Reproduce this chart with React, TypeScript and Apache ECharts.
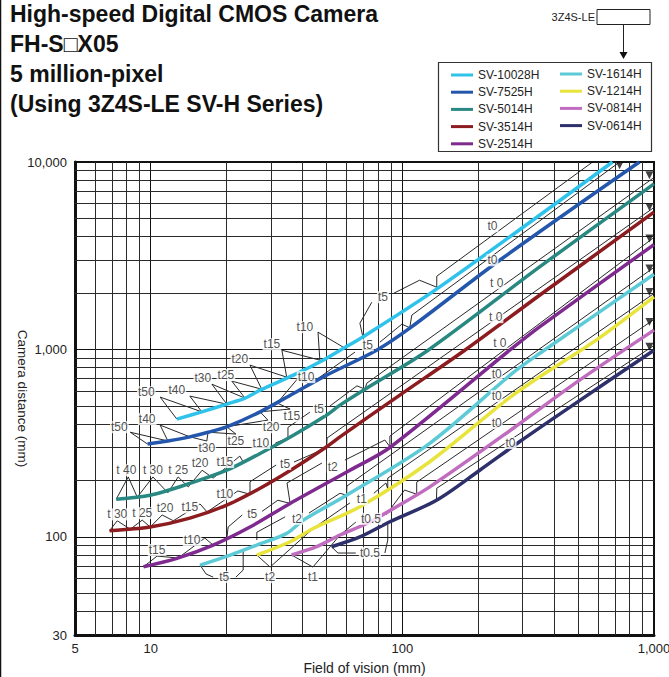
import React, { useEffect, useRef } from 'react';
import * as echarts from 'echarts';

// ---------- data ----------
const seriesNames = ['SV-10028H', 'SV-7525H', 'SV-5014H', 'SV-3514H', 'SV-2514H', 'SV-1614H', 'SV-1214H', 'SV-0814H', 'SV-0614H'];
const seriesColors = ['#2fc3ec', '#2457ab', '#2a8882', '#8c1c20', '#7e2a8f', '#5ccad7', '#e8e43c', '#c06cbf', '#2d306a'];

// [field of vision (mm), camera distance (mm)]
const sv10028h = [[12.7, 425], [15.96, 465], [20.05, 511], [23.7, 550], [27.2, 607], [36.9, 730], [48.4, 877], [56.5, 991], [69.7, 1167], [140.8, 2157], [684, 10000]];
const sv7525h = [[9.71, 313], [11.7, 325], [14.3, 342], [16.9, 362], [20.05, 387], [27.2, 465], [36.9, 583], [50, 730], [79, 991], [108.7, 1320], [243.6, 2993], [875, 10000]];
const sv5014h = [[7.29, 159], [9.95, 167], [14.3, 193], [20.05, 227], [27.2, 279], [36.9, 349], [50, 447], [56.5, 505], [71.0, 614], [126.5, 991], [351, 2757], [1000, 7650]];
const sv3514h = [[6.86, 108], [9.95, 113], [14.3, 126], [20.05, 148], [27.2, 182], [36.9, 232], [50, 303], [56.5, 342], [97.7, 571], [177, 991], [351, 1947], [1000, 5400]];
const sv2514h = [[9.36, 69.4], [12.7, 76.9], [17.7, 90.5], [24.8, 113], [35.8, 151], [61.9, 227], [89.2, 300], [267, 991], [351, 1320], [1000, 3628]];
const sv1614h = [[15.7, 70.8], [20.7, 80.1], [26.4, 90.5], [34.7, 104.5], [40.4, 123], [60, 167], [128.5, 316], [274, 748], [351, 952], [1000, 2520]];
const sv1214h = [[26.4, 80.1], [35.8, 94.3], [44.2, 111], [67.8, 145], [128.5, 252], [259, 537], [351, 715], [589, 1121], [1000, 1908]];
const sv0814h = [[36.3, 80.1], [45.6, 88.7], [56.5, 102.4], [72.1, 118], [94.8, 145], [128.5, 185], [275, 379], [506, 686], [1000, 1268]];
const sv0614h = [[52.3, 88.7], [67.8, 100], [89.2, 120.5], [136.6, 157], [203, 227], [292, 322], [476, 505], [1000, 991]];
const seriesData = [sv10028h, sv7525h, sv5014h, sv3514h, sv2514h, sv1614h, sv1214h, sv0814h, sv0614h];

// extension-tube labels: [text, fov, distance]
const tubeLabels: [string, number, number][] = [
  ['t0', 228, 4540], ['t5', 83.7, 1900], ['t10', 41.0, 1315], ['t15', 30.3, 1067], ['t20', 22.6, 888], ['t25', 19.9, 730], ['t30', 16.1, 703], ['t40', 12.7, 607], ['t50', 9.6, 592],
  ['t0', 228, 2993], ['t5', 72.9, 1054], ['t10', 41.4, 712], ['t15', 36.4, 441], ['t20', 30.1, 385], ['t25', 21.8, 325], ['t30', 16.7, 298], ['t40', 9.68, 425], ['t50', 7.5, 385],
  ['t 0', 237, 2256], ['t5', 46.6, 481], ['t10', 27.4, 317], ['t15', 19.7, 251], ['t20', 15.7, 248], ['t 25', 12.85, 227], ['t 30', 10.2, 227], ['t 40', 8.0, 227],
  ['t 0', 235, 1487], ['t5', 34.2, 245], ['t10', 19.7, 169], ['t15', 14.3, 144], ['t20', 11.4, 143], ['t 25', 9.25, 134], ['t 30', 7.36, 132],
  ['t 0', 244, 1081], ['t2', 52.9, 236], ['t5', 25.3, 132], ['t10', 14.6, 96.3], ['t15', 10.6, 85.2],
  ['t0', 237, 739], ['t2', 38.1, 125], ['t5', 19.6, 61.1],
  ['t0', 237, 564], ['t1', 69.0, 159], ['t2', 29.8, 61.1],
  ['t0', 237, 405], ['t0.5', 75.0, 125], ['t1', 44.1, 61.1],
  ['t0', 269, 317], ['t0.5', 74.3, 82.1],
];

// leader / range lines (polylines of [fov, distance])
const leaderLines: number[][][] = [
  // SV-10028H
  [[12.7, 425], [10.9, 557], [15.96, 465]],
  [[15.96, 465], [14.3, 564], [20.05, 511]],
  [[20.05, 511], [17.5, 653], [23.7, 550]],
  [[23.7, 550], [21.0, 678], [27.6, 614]],
  [[27.6, 614], [24.8, 825], [34.7, 712]],
  [[34.7, 712], [33.2, 991], [47.0, 877]],
  [[47.0, 877], [46.2, 1237], [59.1, 1016]],
  [[69.7, 1163], [67.8, 1381], [75.6, 1787]],
  [[92.5, 1996], [117, 2341], [137, 2148]],
  [[137, 2148], [137, 2459], [570, 10000]],
  // SV-7525H
  [[9.71, 313], [8.29, 362], [11.7, 325]],
  [[11.7, 325], [10.9, 395], [14.3, 342]],
  [[14.3, 342], [16.7, 325], [16.9, 362]],
  [[16.9, 362], [21.8, 354], [20.05, 387]],
  [[20.05, 387], [29.2, 420], [27.2, 465]],
  [[27.2, 465], [35.8, 481], [31.8, 518]],
  [[31.8, 518], [38.5, 703], [42.9, 653]],
  [[42.9, 653], [64.8, 968]],
  [[81.4, 1094], [99.5, 1364], [107, 1307]],
  [[107, 1307], [109, 1524], [730, 10000]],
  // SV-5014H
  [[7.29, 159], [8.14, 209], [8.84, 163]],
  [[8.84, 163], [10.2, 209], [11.7, 172]],
  [[11.7, 172], [12.85, 209], [14.1, 185]],
  [[14.1, 185], [16.0, 227], [17.7, 206]],
  [[17.7, 206], [22.6, 270], [23.3, 251]],
  [[31.3, 317], [35.1, 337]],
  [[35.1, 337], [35.1, 384], [42.9, 463]],
  [[51.5, 499], [66.0, 640], [71.0, 614]],
  [[71.0, 614], [72.2, 661], [990, 8187]],
  // SV-3514H
  [[6.86, 108], [7.36, 122], [8.29, 110]],
  [[8.29, 110], [9.25, 123], [9.95, 113]],
  [[9.95, 113], [11.1, 131], [12.3, 122]],
  [[12.3, 122], [15.7, 150], [16.75, 136]],
  [[16.75, 136], [22.2, 176], [24.8, 169]],
  [[24.8, 169], [24.8, 197], [31.5, 242]],
  [[37.1, 251], [47.8, 291], [50, 303]],
  [[50, 303], [50.2, 337], [990, 5667]],
  // SV-2514H
  [[9.36, 69.4], [10.6, 79.1], [12.85, 77.2]],
  [[12.85, 77.2], [16.4, 98.7], [17.7, 90.5]],
  [[20.05, 97.1], [20.3, 113], [23.1, 131]],
  [[27.7, 137], [32.0, 157], [35.8, 151]],
  [[35.8, 151], [34.8, 194], [47.9, 248]],
  [[59.1, 257], [85.2, 329], [89.2, 303]],
  [[89.2, 303], [89.2, 345], [990, 3920]],
  // SV-1614H
  [[15.7, 70.8], [16.6, 63.4], [17.7, 61.1]],
  [[21.8, 61.1], [23.3, 66.6], [23.3, 84.1]],
  [[26.4, 96.3], [26.4, 106], [34.2, 128]],
  [[42.5, 134], [56.5, 171], [60, 167]],
  [[60, 167], [60.2, 187], [990, 2713]],
  // SV-1214H
  [[26.4, 80.1], [29.8, 69.1], [44.2, 111]],
  [[44.2, 111], [61.9, 152]],
  [[77.0, 171], [86.0, 194], [87.5, 181]],
  [[87.5, 181], [87.5, 206], [990, 1972]],
  // SV-0814H
  [[36.3, 80.1], [44.1, 69.1], [56.5, 102.4]],
  [[56.5, 102.4], [65.3, 120]],
  [[86.0, 131], [102, 178], [114, 169]],
  [[114, 169], [114, 196], [990, 1433]],
  // SV-0614H
  [[52.3, 88.7], [55.4, 82.1], [65.3, 82.1]],
  [[85.2, 82.1], [87.5, 96.3], [87.5, 120]],
  [[136.6, 157], [137, 182], [990, 1041]],
];

// arrow heads at the end of the t0 ranges
const arrowPoints = [[729.6, 9606], [959, 8494], [959, 5757], [959, 3906], [959, 2703], [959, 2028], [959, 1403], [959, 1033]];

// minor grid values
const xMinorTicks = [6, 7, 8, 9, 20, 30, 40, 50, 60, 70, 80, 90, 200, 300, 400, 500, 600, 700, 800, 900];
const yMinorTicks = [40, 50, 60, 70, 80, 90, 200, 300, 400, 500, 600, 700, 800, 900, 2000, 3000, 4000, 5000, 6000, 7000, 8000, 9000];

const titleLines = ['High-speed Digital CMOS Camera', 'FH-S\u25A1X05', '5 million-pixel', '(Using 3Z4S-LE SV-H Series)'];

const FONT = '"Liberation Sans", Arial, Helvetica, sans-serif';

function fmt(v: number) {
  return Math.round(v).toLocaleString('en-US');
}

function buildOption(): any {
  const curveSeries = seriesNames.map((name, i) => ({
    name,
    type: 'line',
    data: seriesData[i],
    smooth: 0.3,
    symbol: 'none',
    z: 5,
    lineStyle: { color: seriesColors[i], width: 3.5 },
    itemStyle: { color: seriesColors[i] },
  }));

  const titleGraphics = titleLines.map((t, i) => ({
    type: 'text',
    x: 10,
    y: [14, 44, 74, 104][i],
    style: { text: t, font: `bold 23px ${FONT}`, fill: '#111', verticalAlign: 'middle' },
  }));

  return {
    animation: false,
    textStyle: { fontFamily: FONT },
    grid: {
      left: 75, right: 15, top: 162, bottom: 42, show: true, borderColor: '#111', borderWidth: 2, backgroundColor: '#fff',
      containLabel: false, outerBoundsMode: 'none',
    },
    legend: [
      {
        data: seriesNames.slice(0, 5), left: 446, top: 63, orient: 'vertical', icon: 'rect', itemWidth: 22, itemHeight: 3, itemGap: 3.2,
        selectedMode: false, textStyle: { fontSize: 12, color: '#222', lineHeight: 14 },
      },
      {
        data: seriesNames.slice(5), left: 555, top: 62, orient: 'vertical', icon: 'rect', itemWidth: 22, itemHeight: 3, itemGap: 3.2,
        selectedMode: false, textStyle: { fontSize: 12, color: '#222', lineHeight: 14 },
      },
    ],
    xAxis: {
      type: 'log', logBase: 10, min: 5, max: 1000,
      axisLine: { show: true, onZero: false, lineStyle: { color: '#111', width: 3 } },
      axisTick: { show: false },
      axisLabel: { color: '#222', fontSize: 13, margin: 7, formatter: fmt },
      splitLine: { show: true, lineStyle: { color: '#111', width: 1 } },
      name: 'Field of vision (mm)', nameLocation: 'middle', nameGap: 26, nameMoveOverlap: false,
      nameTextStyle: { color: '#222', fontSize: 14 },
    },
    yAxis: {
      type: 'log', logBase: 10, min: 30, max: 10000,
      axisLine: { show: true, onZero: false, lineStyle: { color: '#111', width: 3 } },
      axisTick: { show: false },
      axisLabel: { color: '#222', fontSize: 13, margin: 8, formatter: fmt },
      splitLine: { show: true, lineStyle: { color: '#111', width: 1 } },
      name: 'Camera distance (mm)', nameLocation: 'middle', nameGap: 46, nameRotate: -90, nameMoveOverlap: false,
      nameTextStyle: { color: '#222', fontSize: 13.5 },
    },
    graphic: [
      { type: 'line', shape: { x1: 0.5, y1: 0, x2: 0.5, y2: 677 }, style: { stroke: '#111', lineWidth: 1.5 } },
      ...titleGraphics,
      { type: 'text', x: 595, y: 17, style: { text: '3Z4S-LE', font: `11px ${FONT}`, fill: '#222', align: 'right', verticalAlign: 'middle' } },
      { type: 'rect', shape: { x: 597, y: 9.5, width: 53, height: 15 }, style: { fill: '#fff', stroke: '#222', lineWidth: 1 } },
      { type: 'line', shape: { x1: 623.5, y1: 24.5, x2: 623.5, y2: 53 }, style: { stroke: '#222', lineWidth: 1 } },
      { type: 'polygon', shape: { points: [[619.5, 52], [627.5, 52], [623.5, 59]] }, style: { fill: '#111' } },
      { type: 'rect', shape: { x: 438.5, y: 62.5, width: 213, height: 89 }, style: { fill: 'none', stroke: '#333', lineWidth: 1.2 }, z: 10 },
    ],
    series: [
      {
        name: 'grid-minor', type: 'line', data: [], z: 1, silent: true,
        markLine: {
          silent: true, symbol: ['none', 'none'], label: { show: false },
          lineStyle: { type: 'solid', color: '#2a2a2a', width: 1 },
          data: [...xMinorTicks.map((v) => ({ xAxis: v })), ...yMinorTicks.map((v) => ({ yAxis: v }))],
        },
      },
      {
        name: 'leaders', type: 'lines', coordinateSystem: 'cartesian2d', polyline: true, z: 3, silent: true,
        lineStyle: { color: '#111', width: 0.9, opacity: 1 },
        data: leaderLines.map((c) => ({ coords: c })),
      },
      ...curveSeries,
      {
        name: 'arrows', type: 'scatter', data: arrowPoints, symbol: 'triangle', symbolSize: [8, 8], symbolRotate: 180,
        itemStyle: { color: '#111' }, z: 6, silent: true,
      },
      {
        name: 'tube-labels', type: 'scatter', z: 10, silent: true, symbolSize: 1,
        itemStyle: { color: 'rgba(0,0,0,0)' },
        data: tubeLabels.map(([t, x, y]) => ({ name: t, value: [x, y] })),
        label: {
          show: true, position: 'inside', formatter: '{b}', color: '#222', fontSize: 12,
          backgroundColor: '#fff', padding: [0, 1],
        },
      },
    ],
  };
}

export default function App() {
  const ref = useRef<HTMLDivElement>(null);
  useEffect(() => {
    const chart = echarts.init(ref.current as HTMLDivElement, null, { renderer: 'svg' });
    chart.setOption(buildOption());
    return () => chart.dispose();
  }, []);
  return <div ref={ref} style={{ position: 'absolute', left: 0, top: 0, width: 669, height: 677, background: '#fff' }} />;
}
